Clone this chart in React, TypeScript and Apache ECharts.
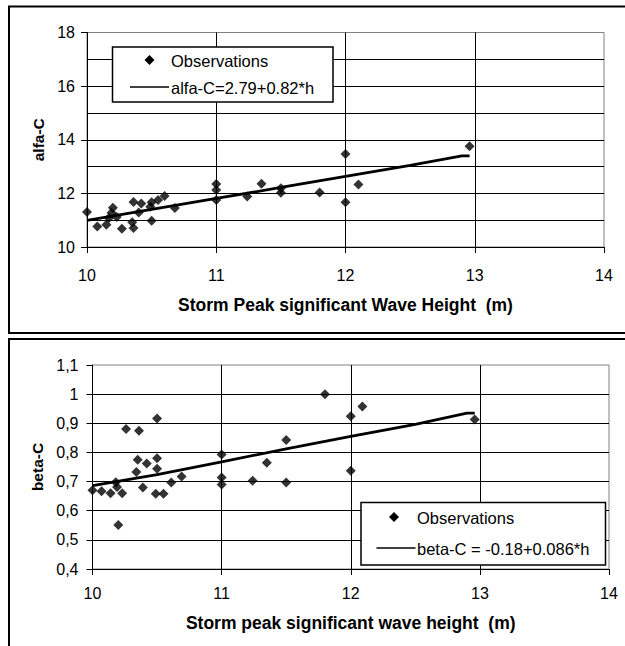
import React, { useEffect, useRef } from "react";
import * as echarts from "echarts";

// ---- Data ----
const alfaX = [10.0, 10.08, 10.15, 10.17, 10.19, 10.2, 10.23, 10.27, 10.36, 10.35, 10.36, 10.42, 10.4, 10.5, 10.5, 10.49, 10.55, 10.6, 10.68, 11.0, 11.0, 11.0, 11.24, 11.35, 11.5, 11.5, 11.8, 12.0, 12.0, 12.1, 12.96];
const alfaY = [11.31, 10.76, 10.83, 11.08, 11.28, 11.46, 11.12, 10.68, 11.68, 10.92, 10.71, 11.62, 11.29, 11.67, 10.98, 11.5, 11.75, 11.9, 11.45, 12.35, 12.13, 11.75, 11.88, 12.36, 12.19, 12.02, 12.03, 13.47, 11.67, 12.33, 13.76];
const alfaFitX = [10.0, 10.5, 11.0, 11.5, 12.0, 12.5, 12.9, 12.96];
const alfaFitY = [10.99, 11.4, 11.81, 12.22, 12.63, 13.04, 13.4, 13.4];

const betaX = [10.0, 10.07, 10.14, 10.18, 10.19, 10.2, 10.23, 10.26, 10.36, 10.35, 10.34, 10.42, 10.39, 10.5, 10.5, 10.5, 10.49, 10.55, 10.61, 10.69, 11.0, 11.0, 11.0, 11.24, 11.35, 11.5, 11.5, 11.8, 12.0, 12.0, 12.09, 12.96];
const betaY = [0.67, 0.667, 0.66, 0.698, 0.681, 0.551, 0.66, 0.88, 0.874, 0.775, 0.733, 0.762, 0.68, 0.916, 0.78, 0.744, 0.658, 0.658, 0.697, 0.717, 0.793, 0.714, 0.69, 0.703, 0.765, 0.843, 0.697, 1.0, 0.924, 0.737, 0.958, 0.913];
const betaFitX = [10.0, 10.5, 11.0, 11.5, 12.0, 12.5, 12.9, 12.96];
const betaFitY = [0.686, 0.724, 0.768, 0.812, 0.855, 0.896, 0.935, 0.935];

const topXTitle = "Storm Peak significant Wave Height  (m)";
const botXTitle = "Storm peak significant wave height  (m)";
const topYTitle = "alfa-C";
const botYTitle = "beta-C";
const obsLabel = "Observations";
const topFitLabel = "alfa-C=2.79+0.82*h";
const botFitLabel = "beta-C = -0.18+0.086*h";

const FONT = "'Liberation Sans', Arial, sans-serif";

const zip = (xs: number[], ys: number[]) => xs.map((x, i) => [x, ys[i]]);

export default function App() {
  const ref = useRef<HTMLDivElement>(null);
  useEffect(() => {
    if (!ref.current) return;
    const chart = echarts.init(ref.current, null, { renderer: "svg" });

    const xAxisBase = (gridIndex: number, name: string, labelMargin: number, nameGap: number) => ({
      gridIndex,
      type: "value",
      min: 10,
      max: 14,
      interval: 1,
      axisLine: { show: true, onZero: false, lineStyle: { color: "#000", width: 1 } },
      axisTick: { show: true, length: 6, lineStyle: { color: "#000", width: 1 } },
      axisLabel: { margin: labelMargin, fontSize: 16, color: "#000", fontFamily: FONT },
      splitLine: { show: true, showMinLine: false, showMaxLine: false, lineStyle: { color: "#000", width: 1 } },
      name,
      nameLocation: "middle",
      nameGap,
      nameTextStyle: { fontSize: 17.5, fontWeight: "bold", color: "#000", fontFamily: FONT },
    });

    const diamond = (cx: number, cy: number) => ({
      type: "polygon",
      z: 100,
      shape: { points: [[cx, cy - 5], [cx + 5, cy], [cx, cy + 5], [cx - 5, cy]] },
      style: { fill: "#000" },
    });
    const legText = (x: number, y: number, text: string) => ({
      type: "text",
      z: 100,
      x,
      y,
      style: { text, fill: "#000", fontSize: 16.5, fontFamily: FONT, verticalAlign: "middle", align: "left" },
    });

    const option: any = {
      animation: false,
      backgroundColor: "#fff",
      grid: [
        { left: 87, top: 32.5, width: 517, height: 214.5, show: true, borderColor: "#808080", borderWidth: 1, backgroundColor: "transparent" },
        { left: 92.5, top: 365, width: 516.5, height: 204, show: true, borderColor: "#808080", borderWidth: 1, backgroundColor: "transparent" },
      ],
      xAxis: [xAxisBase(0, topXTitle, 20, 49), xAxisBase(1, botXTitle, 16, 45)],
      yAxis: [
        {
          gridIndex: 0,
          type: "value",
          min: 10,
          max: 18,
          interval: 2,
          axisLine: { show: true, onZero: false, lineStyle: { color: "#000", width: 1 } },
          axisTick: { show: true, length: 6, lineStyle: { color: "#000", width: 1 } },
          axisLabel: { margin: 12, fontSize: 16, color: "#000", fontFamily: FONT },
          splitLine: { show: true, showMinLine: false, showMaxLine: false, lineStyle: { color: "#000", width: 1 } },
          minorTick: { show: false, splitNumber: 2 },
          minorSplitLine: { show: true, lineStyle: { color: "#000", width: 1 } },
          name: topYTitle,
          nameLocation: "middle",
          nameGap: 40,
          nameTextStyle: { fontSize: 15.5, fontWeight: "bold", color: "#000", fontFamily: FONT },
        },
        {
          gridIndex: 1,
          type: "value",
          min: 0.4,
          max: 1.1,
          interval: 0.1,
          axisLine: { show: true, onZero: false, lineStyle: { color: "#000", width: 1 } },
          axisTick: { show: true, length: 6, lineStyle: { color: "#000", width: 1 } },
          axisLabel: {
            margin: 14,
            fontSize: 16,
            color: "#000",
            fontFamily: FONT,
            formatter: (v: number) => String(Math.round(v * 10) / 10).replace(".", ","),
          },
          splitLine: { show: true, showMinLine: false, showMaxLine: false, lineStyle: { color: "#000", width: 1 } },
          name: botYTitle,
          nameLocation: "middle",
          nameGap: 46,
          nameTextStyle: { fontSize: 15.5, fontWeight: "bold", color: "#000", fontFamily: FONT },
        },
      ],
      series: [
        {
          name: obsLabel,
          type: "scatter",
          xAxisIndex: 0,
          yAxisIndex: 0,
          symbol: "diamond",
          symbolSize: 10,
          itemStyle: { color: "#000" },
          data: zip(alfaX, alfaY),
          z: 5,
        },
        {
          name: topFitLabel,
          type: "line",
          xAxisIndex: 0,
          yAxisIndex: 0,
          symbol: "none",
          lineStyle: { color: "#000", width: 2.8 },
          data: zip(alfaFitX, alfaFitY),
          z: 4,
        },
        {
          name: obsLabel,
          type: "scatter",
          xAxisIndex: 1,
          yAxisIndex: 1,
          symbol: "diamond",
          symbolSize: 10,
          itemStyle: { color: "#000" },
          data: zip(betaX, betaY),
          z: 5,
        },
        {
          name: botFitLabel,
          type: "line",
          xAxisIndex: 1,
          yAxisIndex: 1,
          symbol: "none",
          lineStyle: { color: "#000", width: 2.8 },
          data: zip(betaFitX, betaFitY),
          z: 4,
        },
      ],
      graphic: [
        // panel frames
        { type: "rect", z: 90, shape: { x: 9, y: 6.5, width: 640, height: 326.5 }, style: { fill: "none", stroke: "#000", lineWidth: 2 } },
        { type: "rect", z: 90, shape: { x: 9, y: 339, width: 640, height: 330 }, style: { fill: "none", stroke: "#000", lineWidth: 2 } },
        // top legend
        { type: "rect", z: 99, shape: { x: 112.5, y: 47, width: 220.5, height: 55 }, style: { fill: "#fff", stroke: "#000", lineWidth: 1.5 } },
        diamond(149.5, 60),
        legText(171, 60.5, obsLabel),
        { type: "line", z: 100, shape: { x1: 130, y1: 87, x2: 169, y2: 87 }, style: { stroke: "#000", lineWidth: 1.5 } },
        legText(171, 87.5, topFitLabel),
        // bottom legend
        { type: "rect", z: 99, shape: { x: 361, y: 502.5, width: 244.5, height: 62.5 }, style: { fill: "#fff", stroke: "#000", lineWidth: 1.5 } },
        diamond(394, 517),
        legText(417, 517.5, obsLabel),
        { type: "line", z: 100, shape: { x1: 376.5, y1: 548, x2: 415.5, y2: 548 }, style: { stroke: "#000", lineWidth: 1.5 } },
        legText(417, 548.5, botFitLabel),
      ],
    };

    chart.setOption(option);
    return () => chart.dispose();
  }, []);

  return <div ref={ref} style={{ position: "absolute", left: 0, top: 0, width: 625, height: 646 }} />;
}
